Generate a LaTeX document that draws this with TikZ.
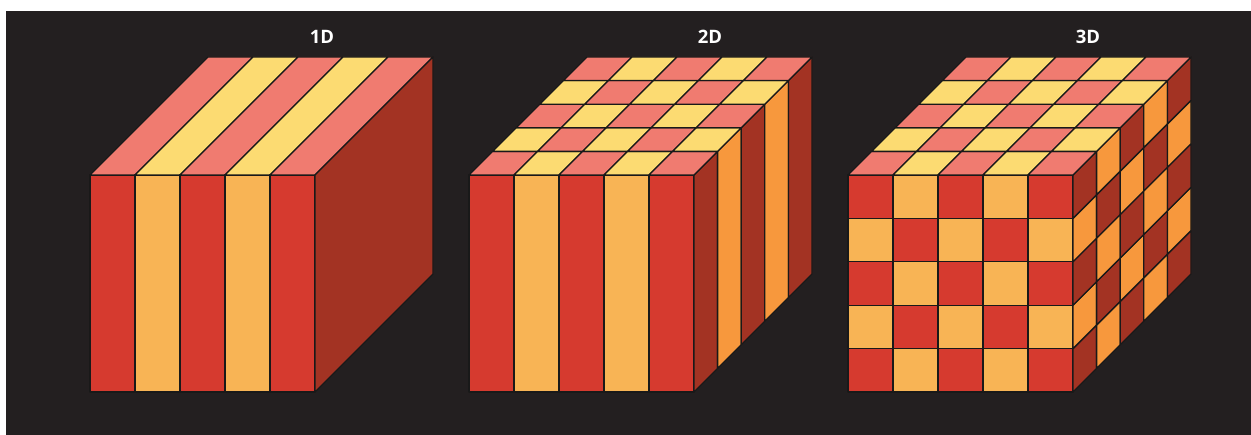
\documentclass[tikz,border=0pt]{standalone}
\usepackage{fontspec}
\setsansfont{Open Sans}
\usepackage{tikz}

\definecolor{bgdark}{HTML}{231F20}
% front faces
\definecolor{front0}{HTML}{D63A2F}
\definecolor{front1}{HTML}{F8B455}
% top faces
\definecolor{top0}{HTML}{F07B70}
\definecolor{top1}{HTML}{FCDB72}
% side faces
\definecolor{side0}{HTML}{A33323}
\definecolor{side1}{HTML}{F7983D}

\begin{document}
\begin{tikzpicture}[x=1pt, y=1pt,
    cell/.style={draw=black!90, line width=1.3pt, line join=round},
    dimlabel/.style={font=\sffamily\bfseries\fontsize{18.5}{20}\selectfont, text=white}]
    \useasboundingbox (0,0) rectangle (1251,435);
    % Page and dark panel
    \fill[white] (0,0) rectangle (1251,435);
    \fill[bgdark] (6,0) rectangle (1251,424);

    % cube sizes: front width W, height H, depth D (5 cells each way)
    \def\W{225} \def\H{217} \def\D{118}
    \def\w{45} \def\h{43.4} \def\d{23.6}

    % ---------- 1D: layers ----------
    \begin{scope}[shift={(90,43)}]
        \foreach \i in {0,...,4} {
            \pgfmathtruncatemacro\p{mod(\i,2)}
            \filldraw[cell, fill=front\p] (\i*\w,0) rectangle ++(\w,\H);
            \filldraw[cell, fill=top\p] (\i*\w,\H) -- ++(\w,0) -- ++(\D,\D) -- ++(-\w,0) -- cycle;
        }
        \filldraw[cell, fill=side0] (\W,0) -- ++(\D,\D) -- ++(0,\H) -- ++(-\D,-\D) -- cycle;
    \end{scope}
    \node[dimlabel] (lab1d) at (322,398) {1D};

    % ---------- 2D: rods ----------
    \begin{scope}[shift={(469,43)}]
        \foreach \i in {0,...,4} {
            \pgfmathtruncatemacro\p{mod(\i,2)}
            \filldraw[cell, fill=front\p] (\i*\w,0) rectangle ++(\w,\H);
        }
        \foreach \j in {0,...,4} {
            \pgfmathtruncatemacro\p{mod(\j,2)}
            \filldraw[cell, fill=side\p] (\W+\j*\d,\j*\d) -- ++(\d,\d) -- ++(0,\H) -- ++(-\d,-\d) -- cycle;
            \foreach \i in {0,...,4} {
                \pgfmathtruncatemacro\q{mod(\i+\j,2)}
                \filldraw[cell, fill=top\q] (\i*\w+\j*\d,\H+\j*\d) -- ++(\w,0) -- ++(\d,\d) -- ++(-\w,0) -- cycle;
            }
        }
    \end{scope}
    \node[dimlabel] (lab2d) at (710,398) {2D};

    % ---------- 3D: blocks ----------
    \begin{scope}[shift={(848,43)}]
        \foreach \i in {0,...,4} {
            \foreach \k in {0,...,4} {
                \pgfmathtruncatemacro\p{mod(\i+\k,2)}
                \filldraw[cell, fill=front\p] (\i*\w,\k*\h) rectangle ++(\w,\h);
            }
        }
        \foreach \j in {0,...,4} {
            \foreach \k in {0,...,4} {
                \pgfmathtruncatemacro\p{mod(\j+\k,2)}
                \filldraw[cell, fill=side\p] (\W+\j*\d,\k*\h+\j*\d) -- ++(\d,\d) -- ++(0,\h) -- ++(-\d,-\d) -- cycle;
            }
            \foreach \i in {0,...,4} {
                \pgfmathtruncatemacro\q{mod(\i+\j,2)}
                \filldraw[cell, fill=top\q] (\i*\w+\j*\d,\H+\j*\d) -- ++(\w,0) -- ++(\d,\d) -- ++(-\w,0) -- cycle;
            }
        }
    \end{scope}
    \node[dimlabel] (lab3d) at (1088,398) {3D};
\end{tikzpicture}
\end{document}
